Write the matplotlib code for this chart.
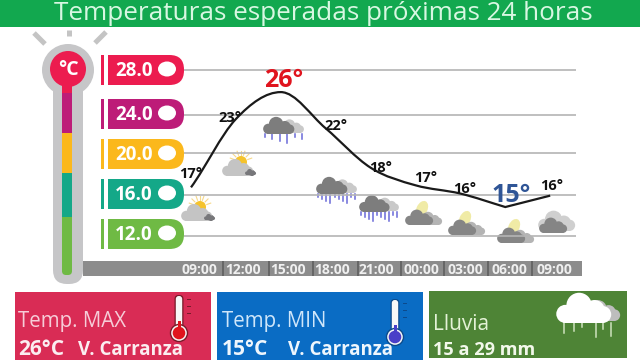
import numpy as np
import matplotlib
matplotlib.use('Agg')
import matplotlib.pyplot as plt
from matplotlib.patches import Circle, Ellipse, Rectangle, FancyBboxPatch, PathPatch
from matplotlib.path import Path

plt.rcParams['font.family'] = ['Open Sans', 'DejaVu Sans']

title = 'Temperaturas esperadas próximas 24 horas'
hours = ['09:00', '12:00', '15:00', '18:00', '21:00', '00:00', '03:00', '06:00', '09:00']
temps = [16.7, 23.3, 25.9, 22.4, 18.6, 16.9, 16.1, 14.8, 15.9]
temp_labels = ['17°', '23°', '26°', '22°', '18°', '17°', '16°', '15°', '16°']
scale_values = [28.0, 24.0, 20.0, 16.0, 12.0]
grid_values = [28.0, 23.7, 20.0, 16.0, 12.0]
scale_colors = ['#ec1c4f', '#bd1c78', '#fbb81c', '#14a888', '#6fba44']

W, H = 640, 360
fig = plt.figure(figsize=(6.4, 3.6), dpi=100, facecolor='white')

# page layer, pixel coordinates
bg = fig.add_axes([0, 0, 1, 1])
bg.set_xlim(0, W)
bg.set_ylim(H, 0)
bg.axis('off')


def rect(x0, y0, x1, y1, color, z=1):
    bg.add_patch(Rectangle((x0, y0), x1 - x0, y1 - y0, fc=color, ec='none', zorder=z))


def rounded(x0, y0, x1, y1, r, color, z=1):
    bg.add_patch(FancyBboxPatch((x0 + r, y0 + r), x1 - x0 - 2 * r, y1 - y0 - 2 * r,
                                boxstyle='round,pad=%f,rounding_size=%f' % (r, r),
                                fc=color, ec='none', zorder=z))


def cloud(x, y, w, color, z=3):
    # x, y = left and bottom of the cloud, built from lobes
    h = w * 0.55
    rounded(x + w * 0.1, y - h * 0.45, x + w * 0.9, y, h * 0.15, color, z)
    for cx, cy, r in [(0.17, 0.3, 0.3), (0.42, 0.58, 0.42), (0.7, 0.42, 0.34), (0.85, 0.28, 0.28)]:
        bg.add_patch(Circle((x + w * cx, y - h * cy), h * r, fc=color, ec='none', zorder=z))


def sun(x, y, r=6):
    for a in np.radians([110, 135, 160, 70, 45, 20, 90]):
        bg.plot([x + r * 1.2 * np.cos(a), x + r * 1.9 * np.cos(a)],
                [y - r * 1.2 * np.sin(a), y - r * 1.9 * np.sin(a)],
                color='#f6d98a', lw=0.8, zorder=2)
    bg.add_patch(Circle((x, y), r, fc='#f5c32c', ec='none', zorder=2))


def sunny(x, y):
    cloud(x + 14, y + 13, 19, '#77777a', 2)
    sun(x + 19, y - 1)
    cloud(x, y + 13, 31, '#c4c4c4')
    cloud(x + 23, y + 12, 11, '#77777a', 4)


def rainy(x, y, w, n):
    cloud(x + w * 0.4, y - 1, w * 0.62, '#c9c9c9', 2)
    cloud(x, y, w * 0.78, '#7d7d7d')
    xs = np.linspace(x + 2, x + w * 0.98, n)
    for i, xi in enumerate(xs):
        bg.plot([xi, xi], [y, y + 3 + (i * 5 % 4) * 2], color='#6a6ad8', lw=1.1, zorder=2)


def moon(x, y, top=True):
    if top:
        bg.add_patch(Ellipse((x + 17, y - 16), 11, 17, angle=25, fc='#f0eba6', ec='none', zorder=2))
        cloud(x + 13, y, 24, '#b4b4b4', 2)
    else:
        cloud(x - 1, y - 2, 37, '#cfcfcf', 2)
    cloud(x, y, 28, '#858585')


# title band
rect(0, 0, W, 27, '#12a84f')
bg.text(323, 20.5, title, color='#d8f7e2', fontsize=18.8, ha='center', va='baseline', zorder=5)

# thermometer
for p0, p1 in [((34, 33), (45, 44)), ((69, 30), (69, 36)), ((106, 32), (95, 43))]:
    bg.plot([p0[0], p1[0]], [p0[1], p1[1]], color='#c4c4c4', lw=3.6, solid_capstyle='butt')
rounded(53, 60, 83, 284, 14, '#c6c6c8')
bg.add_patch(Circle((68, 70), 26, fc='#c6c6c8', ec='none', zorder=1))
rounded(62, 230, 72, 275, 4, scale_colors[4], 2)
rect(62, 217, 72, 262, scale_colors[4], 2)
rect(62, 173, 72, 217, scale_colors[3], 2)
rect(62, 133, 72, 173, scale_colors[2], 2)
rect(62, 93, 72, 133, scale_colors[1], 2)
rect(62, 80, 72, 93, scale_colors[0], 2)
bg.add_patch(Circle((68, 69), 18, fc=scale_colors[0], ec='none', zorder=3))
bg.text(68, 70, '°C', color='white', fontsize=14, fontweight='bold', ha='center', va='center', zorder=4)

# scale tabs
tab_tops = [55, 99, 139, 179, 219]
for val, col, top in zip(scale_values, scale_colors, tab_tops):
    rect(101, top, 104, top + 30, col, 2)
    rounded(108, top, 184, top + 30, 14.5, col, 2)
    rect(108, top, 130, top + 30, col, 2)
    bg.add_patch(Ellipse((167, top + 14), 18, 15, fc='white', ec='none', zorder=3))
    bg.text(134, top + 16, '%.1f' % val, color='white', fontsize=13.5, fontweight='bold',
            ha='center', va='center', zorder=3)

# hour strip
rect(83, 261, 582, 276, '#8c8c8c')
for sx in [223, 269, 313, 358, 401, 444, 488, 532]:
    rect(sx - 1, 261, sx + 1, 276, '#666666', 2)

# weather icons
sunny(181, 208)
sunny(222, 163)
rainy(263, 134, 40, 6)
rainy(316, 194, 40, 10)
rainy(359, 212, 39, 10)
moon(405, 225)
moon(448, 235)
moon(497, 243)
moon(539, 233, top=False)

# bottom panels
rect(15, 292, 211, 360, '#d92c55')
rect(217, 292, 423, 360, '#0a6cc4')
rect(429, 291, 627, 358, '#4e8436')
bg.text(18, 327, 'Temp. MAX', color='#f6cdd8', fontsize=14.8, va='baseline', zorder=3)
bg.text(18, 355, '26°C', color='#fbeef1', fontsize=15, fontweight='bold', va='baseline', zorder=3)
bg.text(78, 355, 'V. Carranza', color='#fbeef1', fontsize=13.4, fontweight='bold', va='baseline', zorder=3)
bg.text(222, 327, 'Temp. MIN', color='#cfe6fa', fontsize=14.8, va='baseline', zorder=3)
bg.text(222, 355, '15°C', color='#eef6fd', fontsize=15, fontweight='bold', va='baseline', zorder=3)
bg.text(288, 355, 'V. Carranza', color='#eef6fd', fontsize=13.4, fontweight='bold', va='baseline', zorder=3)
bg.text(433, 330, 'Lluvia', color='#e4f2d6', fontsize=15, va='baseline', zorder=3)
bg.text(433, 355, '15 a 29 mm', color='#f2f8ea', fontsize=13.1, fontweight='bold', va='baseline', zorder=3)

# panel icons
for bx, by, fill, edge in [(179, 333, '#e0141e', '#7a1a2a'), (395, 337, '#4a3fc8', '#0c4a8c')]:
    rounded(bx - 4.5, by - 38, bx + 4.5, by, 4, edge, 3)
    rounded(bx - 3.2, by - 37, bx + 3.2, by, 3, '#f7f7f7', 3)
    bg.add_patch(Circle((bx, by), 8.5, fc='#f7f7f7', ec=edge, lw=1, zorder=4))
    bg.add_patch(Circle((bx, by), 6.3, fc=fill, ec='none', zorder=5))
    rect(bx - 1.5, by - 12, bx + 1.5, by, fill, 5)
    for t in range(3):
        rect(bx + 8, by - 34 + t * 7, bx + 12, by - 33 + t * 7, edge, 3)
cloud(582, 321, 38, '#bdbdbd', 3)
cloud(556, 323, 55, 'white', 4)
for dx, d0, d1 in [(564, 323, 333), (574, 323, 331), (582, 323, 327), (596, 323, 337), (603, 323, 329), (611, 323, 336)]:
    bg.plot([dx, dx], [d0, d1], color='#cfe2bf', lw=1.1, zorder=3)

# chart layer: x = forecast step, y = temperature
ax = fig.add_axes([184 / W, 1 - 250 / H, (576 - 184) / W, (250 - 60) / H], facecolor='none')
ax.set_xlim(-0.156, 8.575)
ax.set_ylim(10.65, 29.0)
for s in ax.spines.values():
    s.set_visible(False)
ax.set_yticks([])
ax.set_xticks(np.arange(len(hours)) * 0.989 + 0.178)
ax.set_xticklabels(hours, color='#f0f0f0', fontsize=10, fontweight='bold')
ax.tick_params(axis='x', length=0, pad=9)
for g in grid_values:
    ax.axhline(g, color='#b4b4b4', lw=1.2, zorder=1)

# smooth line through the readings, corner kept at the 06:00 low
x = np.arange(len(temps), dtype=float)
y = np.array(temps)
slope_in = np.zeros(len(y))
slope_out = np.zeros(len(y))
for i in range(1, len(y) - 1):
    if (y[i] - y[i - 1]) * (y[i + 1] - y[i]) > 0:
        slope_in[i] = slope_out[i] = (y[i + 1] - y[i - 1]) / 2
slope_out[0] = (y[1] - y[0]) * 0.9
slope_in[-1] = y[-1] - y[-2]
slope_in[7] = y[7] - y[6]
slope_out[7] = y[8] - y[7]
verts = [(x[0], y[0])]
codes = [Path.MOVETO]
for i in range(len(y) - 1):
    verts += [(x[i] + 1 / 3, y[i] + slope_out[i] / 3), (x[i + 1] - 1 / 3, y[i + 1] - slope_in[i + 1] / 3), (x[i + 1], y[i + 1])]
    codes += [Path.CURVE4] * 3
ax.add_patch(PathPatch(Path(verts, codes), fc='none', ec='#1a1a1a', lw=1.6, zorder=4))

# label offsets in pixels from each reading
offsets = [(0, 13), (-6, 1), (3, 12), (10, 2), (10, 0), (10, 7), (4, 5), (6, 12), (1, 10)]
for i, lab in enumerate(temp_labels):
    kw = dict(color='#111111', fontsize=10.5, fontweight='bold')
    if i == 2:
        kw = dict(color='#e0141e', fontsize=18, fontweight='bold')
    if i == 7:
        kw = dict(color='#2f5596', fontsize=18, fontweight='bold')
    ax.annotate(lab, (x[i], y[i]), xytext=(offsets[i][0] * 0.72, offsets[i][1] * 0.72),
                textcoords='offset points', ha='center', va='center', zorder=6, **kw)

fig.savefig('out.png', dpi=100)
